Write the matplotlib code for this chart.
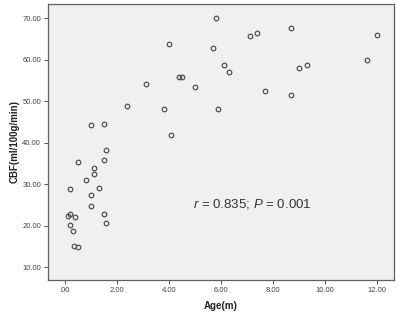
import numpy as np
import matplotlib.pyplot as plt

age = [0.10, 0.19, 0.40, 0.19, 0.30, 0.36, 0.50, 0.19, 0.50, 0.80, 1.00,
       1.00, 1.10, 1.10, 1.30, 1.50, 1.59, 1.50, 1.59, 1.00, 1.50, 2.40,
       3.10, 3.80, 4.00, 4.09, 4.40, 4.50, 5.00, 5.69, 5.80, 5.90, 6.10,
       6.31, 7.10, 7.40, 7.70, 8.69, 8.69, 9.00, 9.30, 11.60, 12.00]
cbf = [22.4, 22.8, 22.1, 20.2, 18.7, 15.1, 14.9, 28.9, 35.3, 31.0, 27.3,
       24.7, 33.9, 32.5, 29.0, 22.7, 20.7, 35.9, 38.3, 44.3, 44.4, 48.9,
       54.2, 48.1, 63.8, 41.8, 55.7, 55.7, 53.4, 62.9, 70.0, 48.1, 58.6,
       57.0, 65.7, 66.3, 52.5, 67.6, 51.4, 57.9, 58.6, 59.9, 65.9]

xticks = [0, 2, 4, 6, 8, 10, 12]
xticklabels = ['.00', '2.00', '4.00', '6.00', '8.00', '10.00', '12.00']
yticks = [10, 20, 30, 40, 50, 60, 70]
yticklabels = ['10.00', '20.00', '30.00', '40.00', '50.00', '60.00', '70.00']

plt.rcParams['font.family'] = ['Liberation Sans', 'DejaVu Sans']
plt.rcParams['mathtext.fontset'] = 'custom'
plt.rcParams['mathtext.it'] = 'Liberation Sans:italic'
plt.rcParams['mathtext.rm'] = 'Liberation Sans'

fig = plt.figure(figsize=(4.0, 3.19), dpi=100)
ax = fig.add_axes([0.12, 0.1223, 0.865, 0.8652])
ax.set_facecolor('#f0f0f0')

ax.plot(age, cbf, 'o', ms=3.3, mfc='none', mec='#505050', mew=0.9)

ax.set_xlim(-0.65, 12.65)
ax.set_ylim(6.9, 73.4)
ax.set_xticks(xticks)
ax.set_xticklabels(xticklabels)
ax.set_yticks(yticks)
ax.set_yticklabels(yticklabels)
ax.tick_params(direction='out', length=3, width=0.7, color='#555555',
               labelsize=5.5, labelcolor='#444444', pad=2)

for s in ax.spines.values():
    s.set_color('#606060')
    s.set_linewidth(0.9)

ax.set_xlabel('Age(m)', fontsize=7, fontweight='bold', color='#222222', labelpad=5)
ax.set_ylabel('CBF(ml/100g/min)', fontsize=7, fontweight='bold', color='#222222', labelpad=2)

ax.text(4.92, 25.25, r'$\it{r}$ = 0.835; $\it{P}$ = 0.001', fontsize=9.5,
        color='#333333', va='center', ha='left')

fig.savefig('out.png', dpi=100)
